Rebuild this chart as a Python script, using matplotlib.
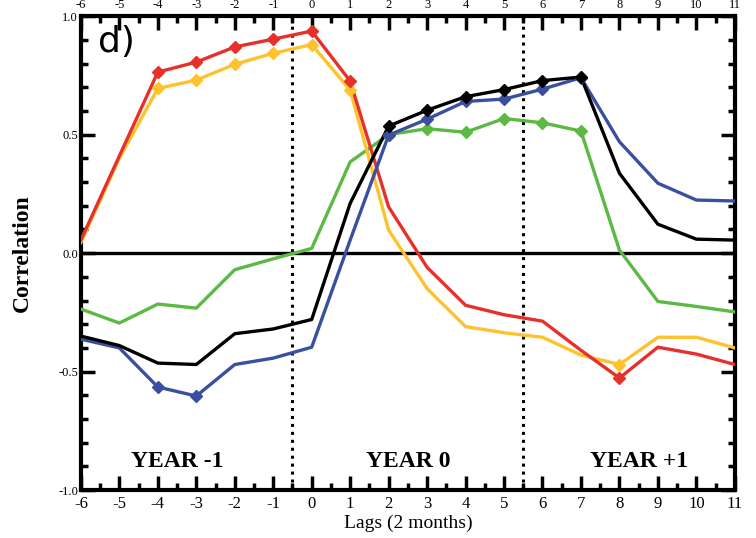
import matplotlib
matplotlib.use("Agg")
import matplotlib.pyplot as plt
from matplotlib.ticker import MultipleLocator, FormatStrFormatter

plt.rcParams["axes.unicode_minus"] = False

lags = list(range(-6, 12))

red = [0.055, 0.41, 0.764, 0.806, 0.87, 0.903, 0.937, 0.726, 0.195, -0.06,
       -0.22, -0.26, -0.287, -0.41, -0.527, -0.397, -0.426, -0.47]
orange = [0.045, 0.40, 0.695, 0.73, 0.797, 0.843, 0.88, 0.688, 0.097, -0.15,
          -0.31, -0.336, -0.355, -0.43, -0.47, -0.355, -0.355, -0.40]
black = [-0.35, -0.39, -0.464, -0.47, -0.34, -0.32, -0.28, 0.21, 0.536, 0.603,
         0.66, 0.69, 0.728, 0.743, 0.337, 0.122, 0.059, 0.055]
blue = [-0.363, -0.40, -0.565, -0.603, -0.47, -0.443, -0.397, 0.055, 0.498, 0.565,
        0.64, 0.65, 0.692, 0.74, 0.47, 0.295, 0.224, 0.22]
green = [-0.236, -0.295, -0.215, -0.232, -0.07, -0.024, 0.02, 0.385, 0.50, 0.525,
         0.51, 0.568, 0.55, 0.515, 0.013, -0.204, -0.225, -0.248]

# lags that carry a marker (significant values)
red_marks = [-4, -3, -2, -1, 0, 1, 8]
orange_marks = [-4, -3, -2, -1, 0, 1, 8]
black_marks = [2, 3, 4, 5, 6, 7]
blue_marks = [-4, -3, 2, 3, 4, 5, 6, 7]
green_marks = [2, 3, 4, 5, 6, 7]

periods = ["YEAR -1", "YEAR 0", "YEAR +1"]
period_x = [-3.5, 2.5, 8.5]

serif = "Liberation Serif"

fig = plt.figure(figsize=(7.56, 5.38), dpi=100)
ax = fig.add_axes([0.107, 0.089, 0.865, 0.881])

series = [(green, green_marks, "#5cb944"),
          (orange, orange_marks, "#fec22c"),
          (red, red_marks, "#e8302a"),
          (blue, blue_marks, "#3b4fa0"),
          (black, black_marks, "black")]
for vals, marks, col in series:
    ax.plot(lags, vals, color=col, lw=2.4, zorder=3)
    mx = [l for l in lags if l in marks]
    my = [vals[lags.index(l)] for l in mx]
    ax.plot(mx, my, ls="none", marker="D", ms=6, color=col, zorder=4)

ax.axhline(0, color="black", lw=2.4, zorder=2)
ax.axvline(-0.5, color="black", lw=2.2, ls=(0, (1, 1.6)), zorder=1)
ax.axvline(5.5, color="black", lw=2.2, ls=(0, (1, 1.6)), zorder=1)

ax.set_xlim(-6, 11)
ax.set_ylim(-1, 1)
ax.xaxis.set_major_locator(MultipleLocator(1))
ax.xaxis.set_minor_locator(MultipleLocator(0.5))
ax.yaxis.set_major_locator(MultipleLocator(0.5))
ax.yaxis.set_minor_locator(MultipleLocator(0.1))
ax.yaxis.set_major_formatter(FormatStrFormatter("%.1f"))
ax.tick_params(which="both", direction="in", top=True, right=True,
               labeltop=True, labelright=False, width=2.5)
ax.tick_params(which="major", length=10)
ax.tick_params(which="minor", length=5)
ax.tick_params(axis="x", labelsize=12, pad=4)
ax.tick_params(axis="y", labelsize=9, pad=2)
for t in ax.xaxis.get_major_ticks():
    t.label1.set_fontfamily(serif)
    t.label2.set_fontfamily(serif)
    t.label2.set_fontsize(9)
for t in ax.yaxis.get_major_ticks():
    t.label1.set_fontfamily(serif)
for sp in ax.spines.values():
    sp.set_linewidth(3)

ax.set_xlabel("Lags (2 months)", fontfamily=serif, fontsize=14, labelpad=2)
ax.set_ylabel("Correlation", fontfamily=serif, fontsize=17, fontweight="bold", labelpad=18)

ax.text(-5.55, 0.89, "d)", fontsize=26, fontfamily="DejaVu Sans", va="center", ha="left")
for txt, px in zip(periods, period_x):
    ax.text(px, -0.88, txt, fontfamily=serif, fontweight="bold", fontsize=17,
            ha="center", va="center")

fig.savefig("out.png", dpi=100)
